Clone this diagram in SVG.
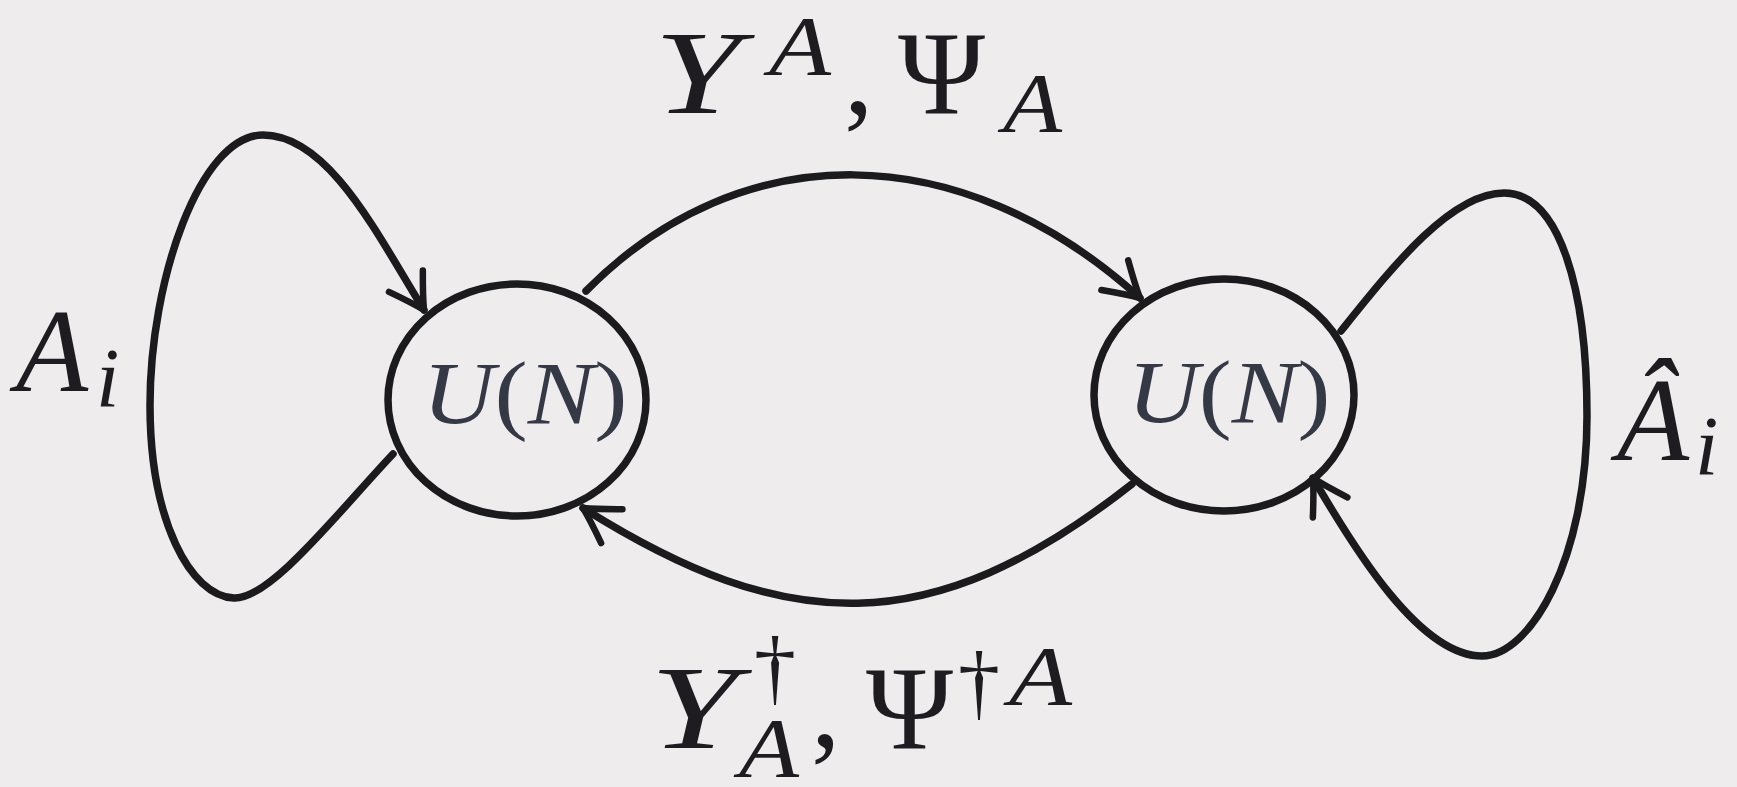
<svg xmlns="http://www.w3.org/2000/svg" width="1737" height="787" viewBox="0 0 1737 787">
  <style>
    .node { fill: none; stroke: #1b1a1c; stroke-width: 7.5; }
    .edge { fill: none; stroke: #1b1a1c; stroke-width: 7.5; stroke-linecap: round; marker-end: url(#arr); }
    text { font-family: 'Liberation Serif', Tinos, 'Times New Roman', serif; }
    .nl { font-size: 88px; fill: #353845; }
    .lb { fill: #1e1c20; }
    .it { font-style: italic; }
    .big { font-size: 118px; }
    .sm { font-size: 84px; }
  </style>
  <defs>
    <marker id="arr" markerUnits="userSpaceOnUse" viewBox="-40 -25 46 50" markerWidth="46" markerHeight="50" refX="0" refY="0" orient="auto">
      <path d="M -34 -20 Q -12 -6 0 0 Q -12 6 -34 20" fill="none" stroke="#1b1a1c" stroke-width="6.5" stroke-linecap="round" stroke-linejoin="round"/>
    </marker>
  </defs>
  <rect x="0" y="0" width="1737" height="787" fill="#eeeced"/>

  <g id="connectors">
    <path id="loop-left" class="edge" d="M 393 454 C 340 510, 270 600, 234 598 C 190 596, 150 520, 150 405 C 150 280, 200 135, 263 135 C 330 135, 380 240, 424 310"/>
    <path id="edge-top" class="edge" d="M 586 291 C 740 135, 960 135, 1140 298"/>
    <path id="edge-bottom" class="edge" d="M 1132 484 C 930 643, 785 635, 583 508"/>
    <path id="loop-right" class="edge" d="M 1341 331 C 1390 270, 1450 193, 1504 193 C 1560 193, 1587 290, 1587 416 C 1587 560, 1530 656, 1482 656 C 1420 656, 1355 550, 1313 478"/>
  </g>

  <g id="node-left">
    <ellipse class="node" cx="517" cy="400" rx="129" ry="116"/>
    <text class="nl" x="525" y="423" text-anchor="middle" textLength="205" lengthAdjust="spacingAndGlyphs"><tspan class="it">U</tspan>(<tspan class="it">N</tspan>)</text>
  </g>

  <g id="node-right">
    <ellipse class="node" cx="1224" cy="395" rx="130" ry="116"/>
    <text class="nl" x="1229" y="422" text-anchor="middle" textLength="203" lengthAdjust="spacingAndGlyphs"><tspan class="it">U</tspan>(<tspan class="it">N</tspan>)</text>
  </g>

  <g id="labels">
    <g id="label-top">
      <text class="lb it big" x="654" y="113" textLength="87" lengthAdjust="spacingAndGlyphs">Y</text>
      <text class="lb it sm" x="769" y="75" textLength="62" lengthAdjust="spacingAndGlyphs">A</text>
      <text class="lb big" x="844" y="113">,</text>
      <text class="lb big" x="898" y="113">Ψ</text>
      <text class="lb it sm" x="1003" y="132" textLength="59" lengthAdjust="spacingAndGlyphs">A</text>
    </g>
    <g id="label-bottom">
      <text class="lb it big" x="650" y="748" textLength="88" lengthAdjust="spacingAndGlyphs">Y</text>
      <text class="lb sm" x="754" y="695">†</text>
      <text class="lb it sm" x="739" y="777" textLength="60" lengthAdjust="spacingAndGlyphs">A</text>
      <text class="lb big" x="811" y="746">,</text>
      <text class="lb big" x="866" y="748">Ψ</text>
      <text class="lb sm" x="958" y="710">†</text>
      <text class="lb it sm" x="1009" y="705" textLength="63" lengthAdjust="spacingAndGlyphs">A</text>
    </g>
    <g id="label-left">
      <text class="lb it big" x="16" y="391">A</text>
      <text class="lb it sm" x="96" y="407">i</text>
    </g>
    <g id="label-right">
      <text class="lb it big" x="1617" y="460">Â</text>
      <text class="lb it sm" x="1695" y="475">i</text>
    </g>
  </g>
</svg>
